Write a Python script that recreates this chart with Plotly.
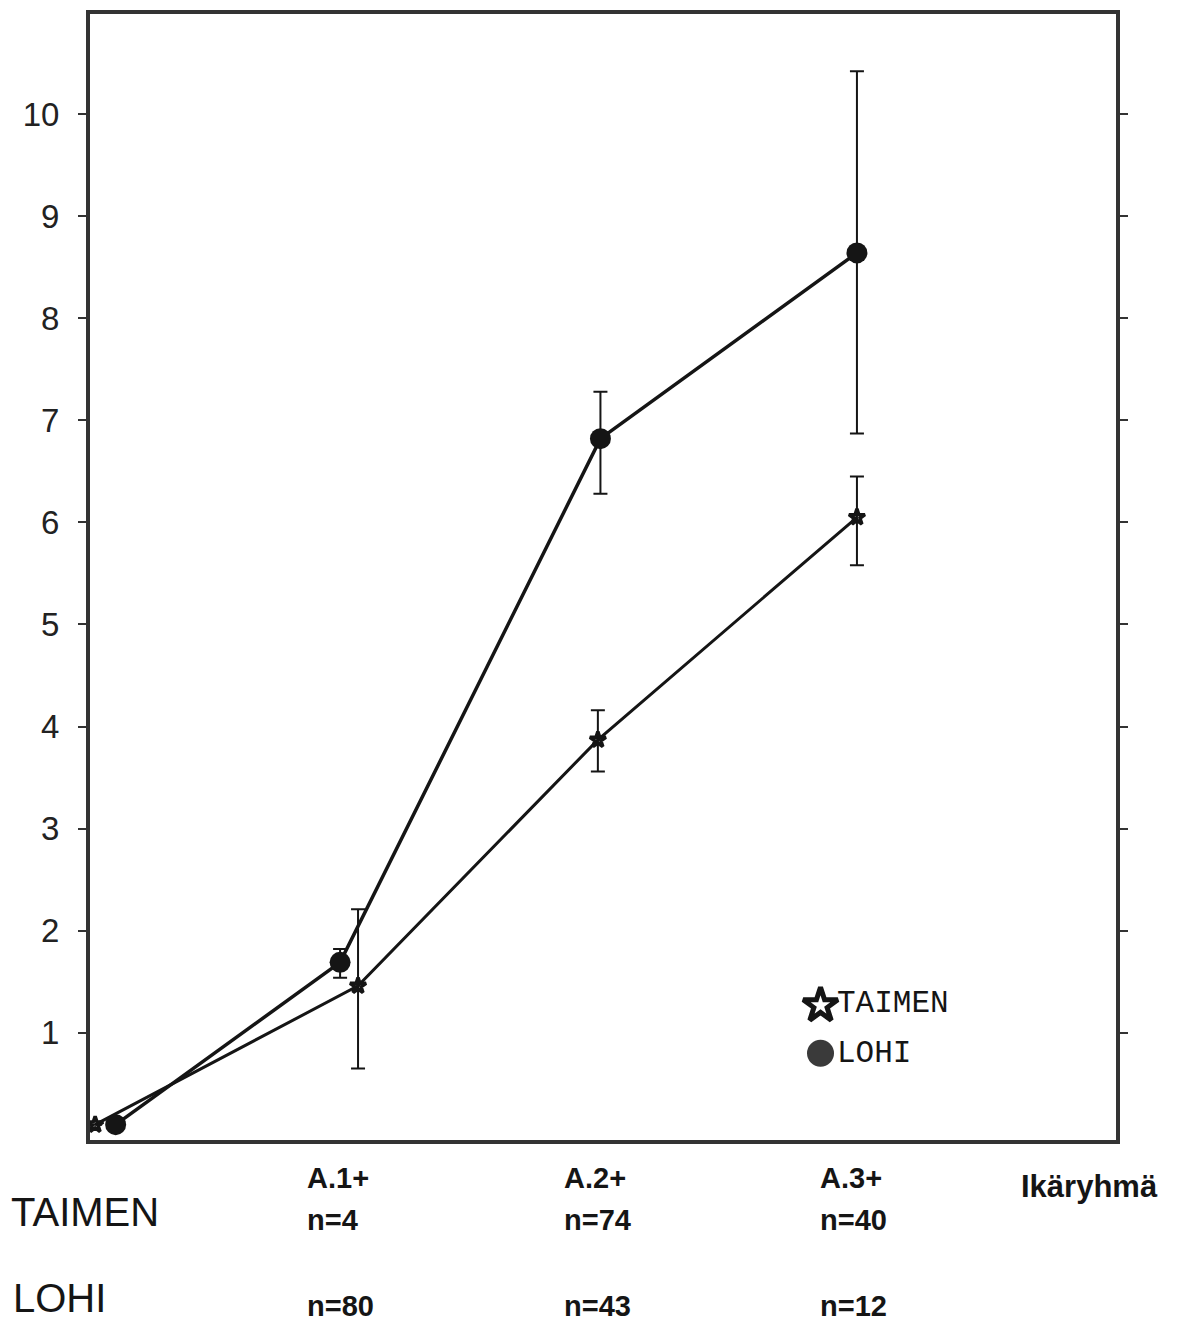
import plotly.graph_objects as go

# Age groups (0+ start point, then A.1+ .. A.3+)
age = [0, 1, 2, 3]
age_labels = ["A.1+", "A.2+", "A.3+"]

# TAIMEN (trout): mean value and error-bar limits per age group
taimen_mean = [0.10, 1.46, 3.87, 6.05]
taimen_hi = [0.10, 2.21, 4.16, 6.45]
taimen_lo = [0.10, 0.65, 3.56, 5.58]
taimen_n = [4, 74, 40]

# LOHI (salmon): mean value and error-bar limits per age group
lohi_mean = [0.10, 1.69, 6.82, 8.64]
lohi_hi = [0.10, 1.82, 7.28, 10.42]
lohi_lo = [0.10, 1.54, 6.28, 6.87]
lohi_n = [80, 43, 12]

y_ticks = [1, 2, 3, 4, 5, 6, 7, 8, 9, 10]

# small horizontal dodge so the two series do not overlap
taimen_dodge = [0.02, 0.045, -0.02, -0.01]
lohi_dodge = [0.10, -0.025, -0.01, -0.01]

INK = "#151515"
FRAME = "#333333"
SANS = "Liberation Sans, Arial, sans-serif"
MONO = "Liberation Mono, DejaVu Sans Mono, monospace"


def err(mean, hi, lo):
    return dict(
        type="data",
        symmetric=False,
        array=[h - m for h, m in zip(hi, mean)],
        arrayminus=[m - l for m, l in zip(mean, lo)],
        color=INK,
        thickness=2,
        width=7,
    )


fig = go.Figure()

fig.add_trace(go.Scatter(
    x=[a + d for a, d in zip(age, taimen_dodge)],
    y=taimen_mean,
    mode="lines+markers",
    name="TAIMEN",
    line=dict(color=INK, width=3),
    marker=dict(symbol="star-open", size=12, color=INK, line=dict(width=3.5, color=INK)),
    error_y=err(taimen_mean, taimen_hi, taimen_lo),
    showlegend=False,
))

fig.add_trace(go.Scatter(
    x=[a + d for a, d in zip(age, lohi_dodge)],
    y=lohi_mean,
    mode="lines+markers",
    name="LOHI",
    line=dict(color=INK, width=3.5),
    marker=dict(symbol="circle", size=21, color=INK),
    error_y=err(lohi_mean, lohi_hi, lohi_lo),
    showlegend=False,
))

# legend keys drawn on an overlay frame spanning the plot area (0..1)
fig.add_trace(go.Scatter(
    x=[0.712, 0.712],
    y=[0.1195, 0.077],
    mode="markers",
    xaxis="x2", yaxis="y2",
    marker=dict(symbol=["star-open", "circle"], size=[26, 27], opacity=1,
                color=[INK, "#3a3a3a"],
                line=dict(width=[5, 0], color=INK)),
    hoverinfo="skip",
    showlegend=False,
))

annotations = []
for txt, yy in (("TAIMEN", 0.121), ("LOHI", 0.077)):
    annotations.append(dict(
        text=txt, xref="paper", yref="paper", x=0.726, y=yy,
        xanchor="left", yanchor="middle", showarrow=False,
        font=dict(family=MONO, size=31, color=INK),
    ))

# column headers and sample sizes below the plot
for a, lab, nt, nl in zip(age[1:], age_labels, taimen_n, lohi_n):
    for txt, yy in ((lab, -0.034), (f"n={nt}", -0.071), (f"n={nl}", -0.147)):
        annotations.append(dict(
            text=f"<b>{txt}</b>", xref="x", yref="paper", x=a - 0.16, y=yy,
            xanchor="left", yanchor="middle", showarrow=False,
            font=dict(family=SANS, size=29, color=INK),
        ))

annotations += [
    dict(text="TAIMEN", xref="paper", yref="paper", x=-0.079, y=-0.064,
         xanchor="left", yanchor="middle", showarrow=False,
         font=dict(family=SANS, size=40, color=INK)),
    dict(text="LOHI", xref="paper", yref="paper", x=-0.077, y=-0.140,
         xanchor="left", yanchor="middle", showarrow=False,
         font=dict(family=SANS, size=40, color=INK)),
    dict(text="<b>Ikäryhmä</b>", xref="paper", yref="paper", x=0.905, y=-0.041,
         xanchor="left", yanchor="middle", showarrow=False,
         font=dict(family=SANS, size=31, color=INK)),
]

fig.update_layout(
    width=1178, height=1322,
    margin=dict(l=90, r=62, t=10, b=182),
    paper_bgcolor="white", plot_bgcolor="white",
    annotations=annotations,
    xaxis=dict(
        range=[0, 4], showgrid=False, zeroline=False,
        showticklabels=False, ticks="",
        showline=True, linecolor=FRAME, linewidth=4, mirror=True,
    ),
    yaxis=dict(
        range=[-0.05, 10.98], showgrid=False, zeroline=False,
        tickmode="array", tickvals=y_ticks, ticktext=[str(v) for v in y_ticks],
        ticks="outside", ticklen=8, tickwidth=2, tickcolor=FRAME,
        tickfont=dict(family=SANS, size=33, color="#222222"),
        ticklabelstandoff=12,
        showline=True, linecolor=FRAME, linewidth=4, mirror="ticks",
    ),
    xaxis2=dict(range=[0, 1], overlaying="x", visible=False),
    yaxis2=dict(range=[0, 1], overlaying="y", visible=False),
)

fig.write_html("out.html")
